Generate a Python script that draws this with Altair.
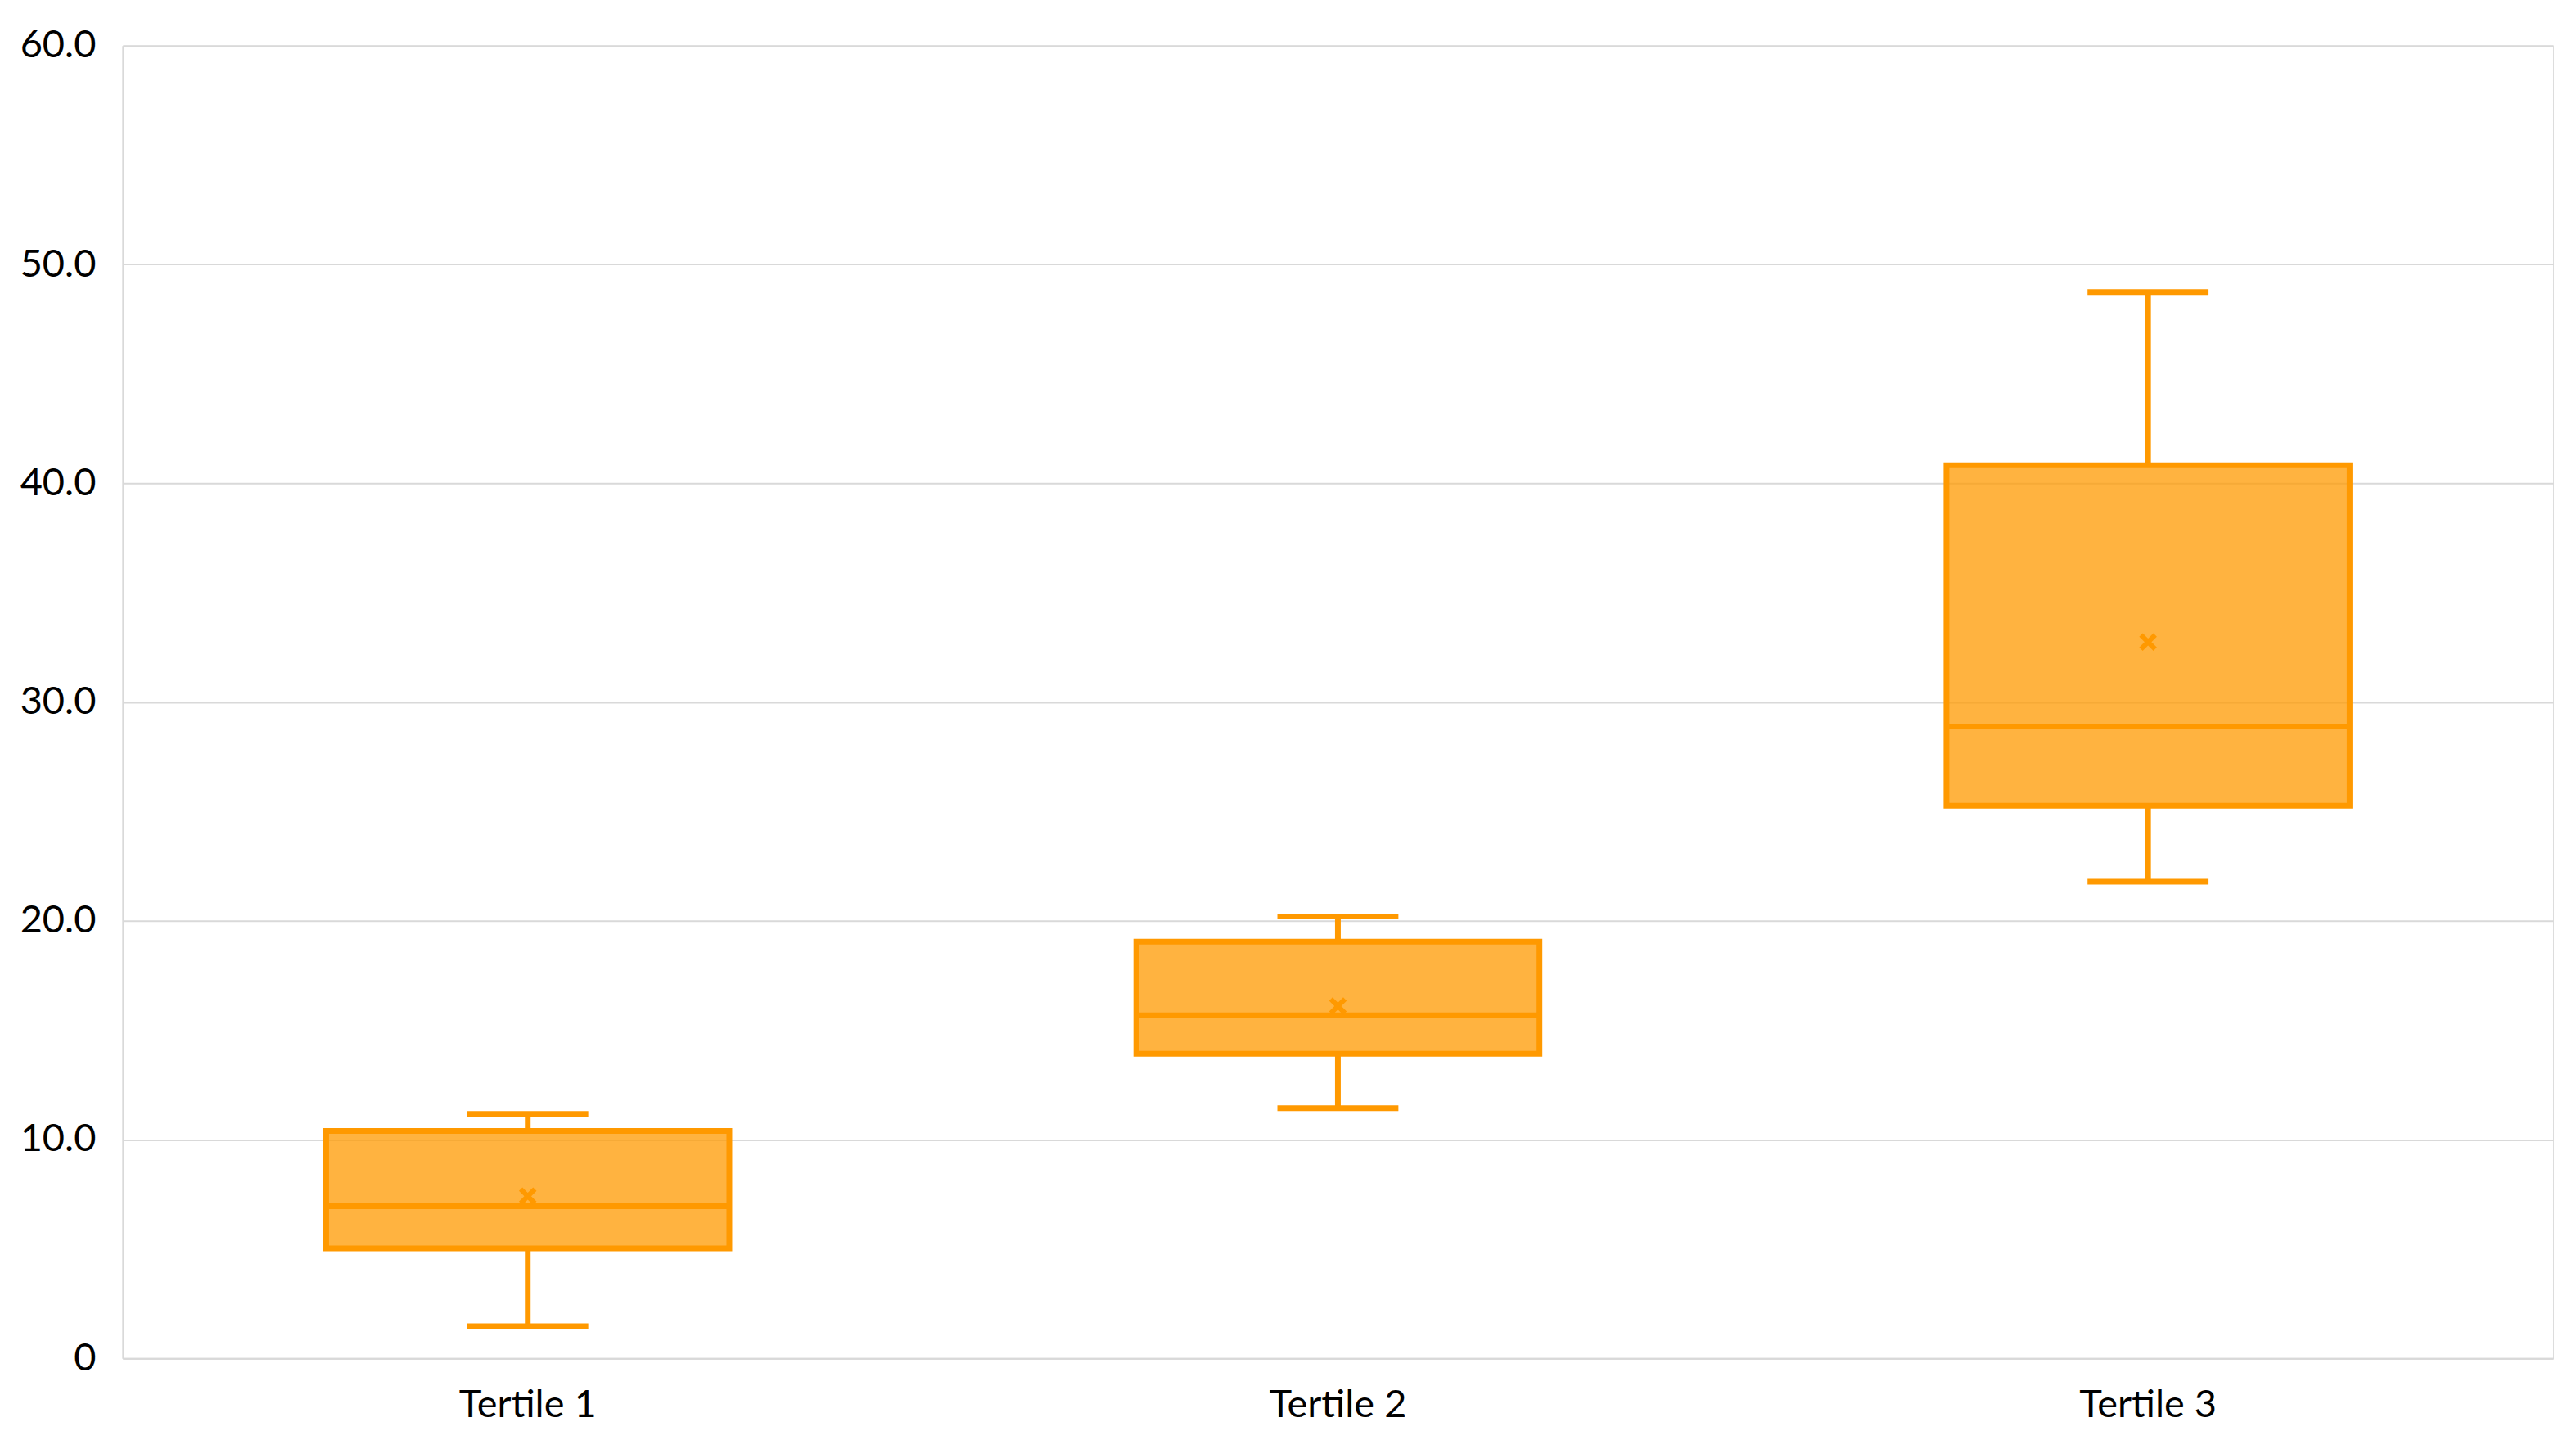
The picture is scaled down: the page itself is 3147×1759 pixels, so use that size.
import altair as alt
import pandas as pd

categories = ["Tertile 1", "Tertile 2", "Tertile 3"]
lower = [1.47, 11.43, 21.79]
q1 = [5.02, 13.92, 25.26]
median = [6.95, 15.68, 28.88]
q3 = [10.39, 19.05, 40.82]
upper = [11.17, 20.2, 48.74]
mean = [7.41, 16.1, 32.74]

df = pd.DataFrame({"cat": categories, "lower": lower, "q1": q1, "median": median,
                   "q3": q3, "upper": upper, "mean": mean})

ORANGE = "#FF9900"
FONT = "Lato"

x = alt.X("cat:N", sort=categories, title=None,
          scale=alt.Scale(paddingInner=0, paddingOuter=0),
          axis=alt.Axis(labelAngle=0, ticks=False, labelFont=FONT, labelFontSize=47,
                        labelColor="#000000", labelPadding=34, domainColor="#D9D9D9",
                        domainWidth=2, grid=False))
yscale = alt.Scale(domain=[0, 60], nice=False)
yaxis = alt.Axis(values=[0, 10, 20, 30, 40, 50, 60], ticks=False, labelFont=FONT,
                 labelFontSize=47, labelColor="#000000", labelPadding=33,
                 labelExpr="datum.value == 0 ? '0' : format(datum.value, '.1f')",
                 domainColor="#D9D9D9", domainWidth=2, gridColor="#D9D9D9", gridWidth=2,
                 title=None)

base = alt.Chart(df)

wh_top = base.mark_rule(color=ORANGE, strokeWidth=7).encode(
    x=x, y=alt.Y("q3:Q", scale=yscale, axis=yaxis), y2="upper:Q")
wh_bot = base.mark_rule(color=ORANGE, strokeWidth=7).encode(
    x=x, y=alt.Y("lower:Q", scale=yscale), y2="q1:Q")
cap_top = base.mark_tick(color=ORANGE, size=148, thickness=7, opacity=1).encode(
    x=x, y=alt.Y("upper:Q", scale=yscale))
cap_bot = base.mark_tick(color=ORANGE, size=148, thickness=7, opacity=1).encode(
    x=x, y=alt.Y("lower:Q", scale=yscale))
box = base.mark_bar(fill=ORANGE, fillOpacity=0.75, stroke=ORANGE, strokeWidth=7,
                    size=493).encode(
    x=x, y=alt.Y("q1:Q", scale=yscale), y2="q3:Q")
med = base.mark_tick(color=ORANGE, size=493, thickness=7, opacity=1).encode(
    x=x, y=alt.Y("median:Q", scale=yscale))
mn = base.mark_point(shape="M-1,-1L1,1M1,-1L-1,1", filled=False, stroke=ORANGE,
                     strokeWidth=6, size=300, opacity=1).encode(
    x=x, y=alt.Y("mean:Q", scale=yscale))

chart = alt.layer(wh_top, wh_bot, cap_top, cap_bot, box, med, mn).properties(
    width=2972, height=1605,
    autosize=alt.AutoSizeParams(type="none"),
    padding={"left": 142, "top": 47, "right": 20, "bottom": 80},
).configure_view(stroke=None).configure(background="white")

chart.save("out.html", embed_options={"renderer": "svg", "actions": False})
